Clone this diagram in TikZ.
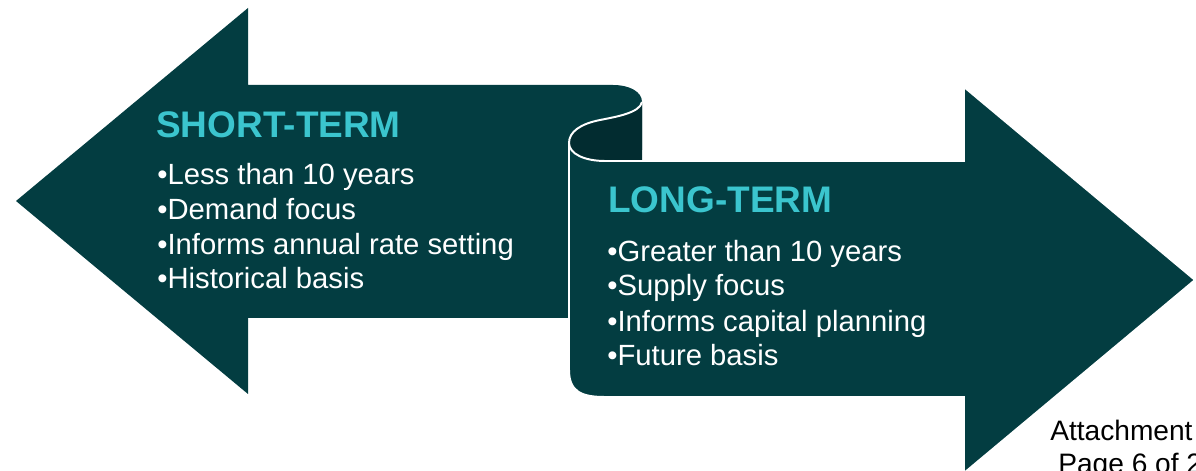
\documentclass[tikz,border=0pt]{standalone}
\usepackage{fontspec}
\setmainfont{Liberation Sans}
\definecolor{tealbody}{HTML}{033D41}
\definecolor{tealback}{HTML}{022C30}
\definecolor{tealtitle}{HTML}{3BC5CE}
\begin{document}
\begin{tikzpicture}
		[	x=0.025cm,y=-0.025cm,
		sheet/.style={fill=tealbody,draw=none},
		heading/.style={anchor=base west,inner sep=0pt,text=tealtitle,font=\bfseries\fontsize{26.3}{30}\selectfont},
		bullet/.style={anchor=base west,inner sep=0pt,text=white,font=\fontsize{20.8}{24}\selectfont},
		note/.style={anchor=base west,inner sep=0pt,text=black,font=\fontsize{20}{22}\selectfont}
		]
		\useasboundingbox (0,0) rectangle (1196,471);
		% short-term arrow, pointing left
		\fill[sheet] (16,201) -- (248,8) -- (248,85) -- (613,85)
			.. controls (630,85) and (642,92) .. (642,102) -- (642,150) -- (569,150)
			-- (569,318) -- (248,318) -- (248,394) -- cycle;
		% inside of the curl
		\fill[tealback] (642,102) .. controls (640,113) and (615,117) .. (600,120)
			.. controls (580,124) and (569,132) .. (569,143)
			.. controls (569,154) and (585,161) .. (605,161) -- (642,161) -- cycle;
		% long-term arrow, pointing right
		\filldraw[sheet,draw=white,line width=1.4pt] (569,143)
			.. controls (569,154) and (585,161) .. (605,161) -- (964,161) -- (964,87)
			-- (1195,280) -- (964,473) -- (964,397) -- (605,397)
			.. controls (582,397) and (569,392) .. (569,370) -- cycle;
		\draw[white,line width=1.4pt] (642,102) .. controls (640,113) and (615,117) .. (600,120)
			.. controls (580,124) and (569,132) .. (569,143);

\node[heading] (stitle) at (156,137.7){SHORT-TERM};
\node[bullet] (st1) at (157,185){•Less than 10 years};
\node[bullet] (st2) at (157,220){•Demand focus};
\node[bullet] (st3) at (157,255){•Informs annual rate setting};
\node[bullet] (st4) at (157,289){•Historical basis};

\node[heading] (ltitle) at (608,213){LONG-TERM};
\node[bullet] (lt1) at (607,262){•Greater than 10 years};
\node[bullet] (lt2) at (607,296){•Supply focus};
\node[bullet] (lt3) at (607,332){•Informs capital planning};
\node[bullet] (lt4) at (607,366){•Future basis};

\node[note] (attach) at (1050,440){Attachment};
\node[note] (page) at (1058,473){Page 6 of 2};
	\end{tikzpicture}
\end{document}
